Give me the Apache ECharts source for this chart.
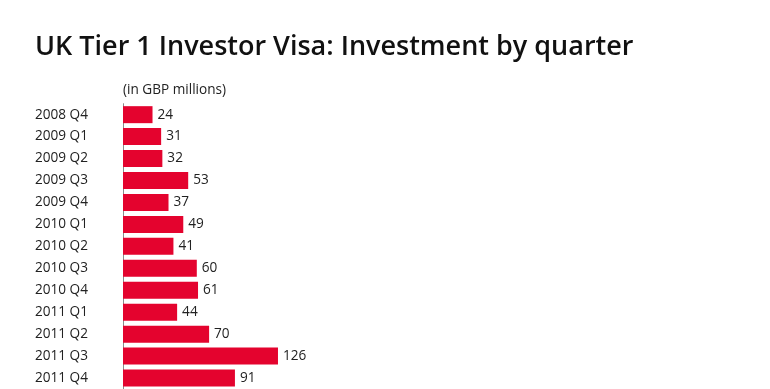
<!DOCTYPE html>
<html>
<head>
<meta charset="utf-8">
<script src="https://cdn.jsdelivr.net/npm/echarts@6/dist/echarts.min.js"></script>
<style>
html,body{margin:0;padding:0;background:#fff;}
#chart{width:770px;height:389px;}
</style>
</head>
<body>
<div id="chart"></div>
<script>
var titleText = 'UK Tier 1 Investor Visa: Investment by quarter';
var subtitleText = '(in GBP millions)';
var categories = ['2008 Q4','2009 Q1','2009 Q2','2009 Q3','2009 Q4','2010 Q1','2010 Q2','2010 Q3','2010 Q4','2011 Q1','2011 Q2','2011 Q3','2011 Q4'];
var investment = [24,31,32,53,37,49,41,60,61,44,70,126,91];

var chart = echarts.init(document.getElementById('chart'), null, {renderer:'canvas'});
var font = '"Open Sans", sans-serif';
chart.setOption({
  animation:false,
  backgroundColor:'#fff',
  title:[{
    text:titleText, left:30, top:29,
    textStyle:{fontFamily:font, fontSize:27, fontWeight:600, color:'#111'}
  },{
    text:subtitleText, left:118, top:78,
    textStyle:{fontFamily:font, fontSize:13.6, fontWeight:'normal', color:'#222'}
  }],
  grid:{left:123, top:103.7, width:615, height:286},
  xAxis:{type:'value', min:0, max:500, show:false},
  yAxis:{
    type:'category', data:categories, inverse:true,
    axisLine:{show:true, lineStyle:{color:'#8a8a8a', width:1}},
    axisTick:{show:false},
    axisLabel:{align:'left', margin:88, fontFamily:font, fontSize:13.6, color:'#222'}
  },
  series:[{
    type:'bar', data:investment, barWidth:17,
    itemStyle:{color:'#e4032e'},
    label:{show:true, position:'right', distance:5, fontFamily:font, fontSize:13.6, color:'#222'}
  }]
});
</script>
</body>
</html>
